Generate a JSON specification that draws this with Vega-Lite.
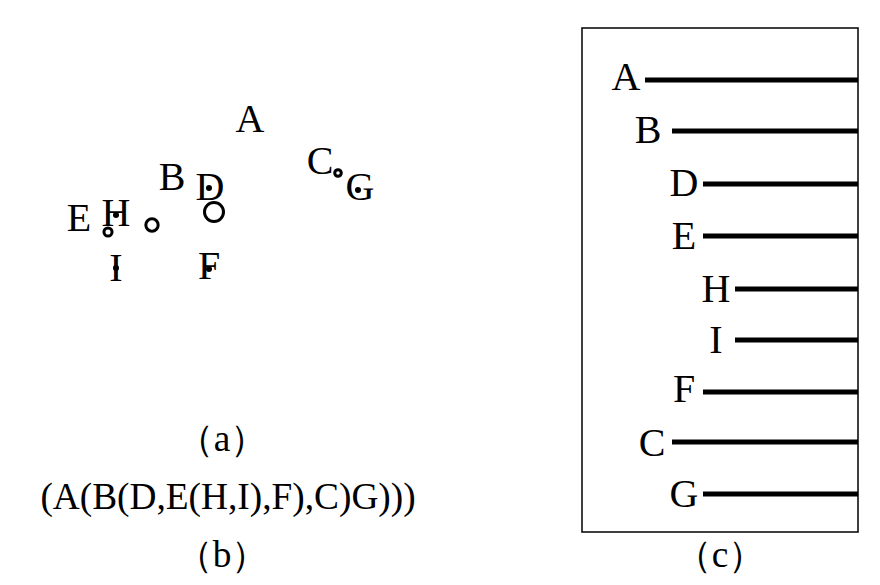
{
"$schema":"https://vega.github.io/schema/vega-lite/v6.json",
"autosize":{"type":"fit","contains":"padding"},"padding":0,
"width":880,"height":585,
"config":{"view":{"stroke":null}},
"background":"white",
"resolve":{"scale":{"size":"independent"}},
"layer":[
{"data":{"values":[
{"n":"outer","cx":214,"cy":212,"d":380},
{"n":"A","cx":152,"cy":225,"d":245},
{"n":"E","cx":108,"cy":232,"d":158},
{"n":"C","cx":338,"cy":173,"d":126},
{"n":"G","cx":358,"cy":190,"d":46},
{"n":"D","cx":209,"cy":188,"d":46},
{"n":"H","cx":116,"cy":215,"d":46},
{"n":"I","cx":116,"cy":268,"d":46},
{"n":"F","cx":209,"cy":269,"d":46}]},
"transform":[{"calculate":"datum.d*datum.d","as":"s"}],
"mark":{"type":"point","shape":"circle","filled":false,"stroke":"black","strokeWidth":3,"opacity":1},
"encoding":{
"x":{"field":"cx","type":"quantitative","scale":{"domain":[0,880],"nice":false,"zero":false},"axis":null},
"y":{"field":"cy","type":"quantitative","scale":{"domain":[0,585],"reverse":true,"nice":false,"zero":false},"axis":null},
"size":{"field":"s","type":"quantitative","scale":{"type":"identity"},"legend":null}}},
{"data":{"values":[
{"t":"A","x":250,"y":120,"f":24},{"t":"B","x":172,"y":178,"f":24},{"t":"C","x":320,"y":162,"f":24},
{"t":"D","x":210,"y":188,"f":24},{"t":"E","x":79,"y":219,"f":24},{"t":"F","x":209,"y":267,"f":24},
{"t":"G","x":360,"y":188,"f":24},{"t":"H","x":116,"y":214,"f":24},{"t":"I","x":116,"y":269,"f":24},
{"t":"（a）","x":222,"y":440,"f":22},{"t":"(A(B(D,E(H,I),F),C)G)))","x":228,"y":498,"f":22},
{"t":"（b）","x":222,"y":556,"f":22},{"t":"（c）","x":720,"y":556,"f":22},
{"t":"A","x":626,"y":78,"f":24},{"t":"B","x":648,"y":131,"f":24},{"t":"D","x":684,"y":184,"f":24},
{"t":"E","x":684,"y":237,"f":24},{"t":"H","x":716,"y":290,"f":24},{"t":"I","x":716,"y":341,"f":24},
{"t":"F","x":684,"y":390,"f":24},{"t":"C","x":652,"y":444,"f":24},{"t":"G","x":684,"y":495,"f":24}]},
"mark":{"type":"text","font":"Liberation Serif","fill":"black","color":"black","baseline":"middle","align":"center"},
"encoding":{
"x":{"field":"x","type":"quantitative"},
"y":{"field":"y","type":"quantitative"},
"text":{"field":"t"},
"size":{"field":"f","type":"quantitative","scale":{"type":"identity"},"legend":null}}},
{"data":{"values":[{"x":582,"x2":858,"y":28,"y2":532}]},
"mark":{"type":"rect","fill":null,"stroke":"black","strokeWidth":1.5},
"encoding":{"x":{"field":"x","type":"quantitative"},"x2":{"field":"x2"},"y":{"field":"y","type":"quantitative"},"y2":{"field":"y2"}}},
{"data":{"values":[
{"y":80,"x":645},{"y":131,"x":672},{"y":184,"x":703},{"y":236,"x":703},{"y":289,"x":735},
{"y":340,"x":735},{"y":392,"x":703},{"y":442,"x":672},{"y":494,"x":703}]},
"transform":[{"calculate":"858","as":"x2"}],
"mark":{"type":"rule","stroke":"black","strokeWidth":5},
"encoding":{"x":{"field":"x","type":"quantitative"},"x2":{"field":"x2"},"y":{"field":"y","type":"quantitative"}}}
]}
